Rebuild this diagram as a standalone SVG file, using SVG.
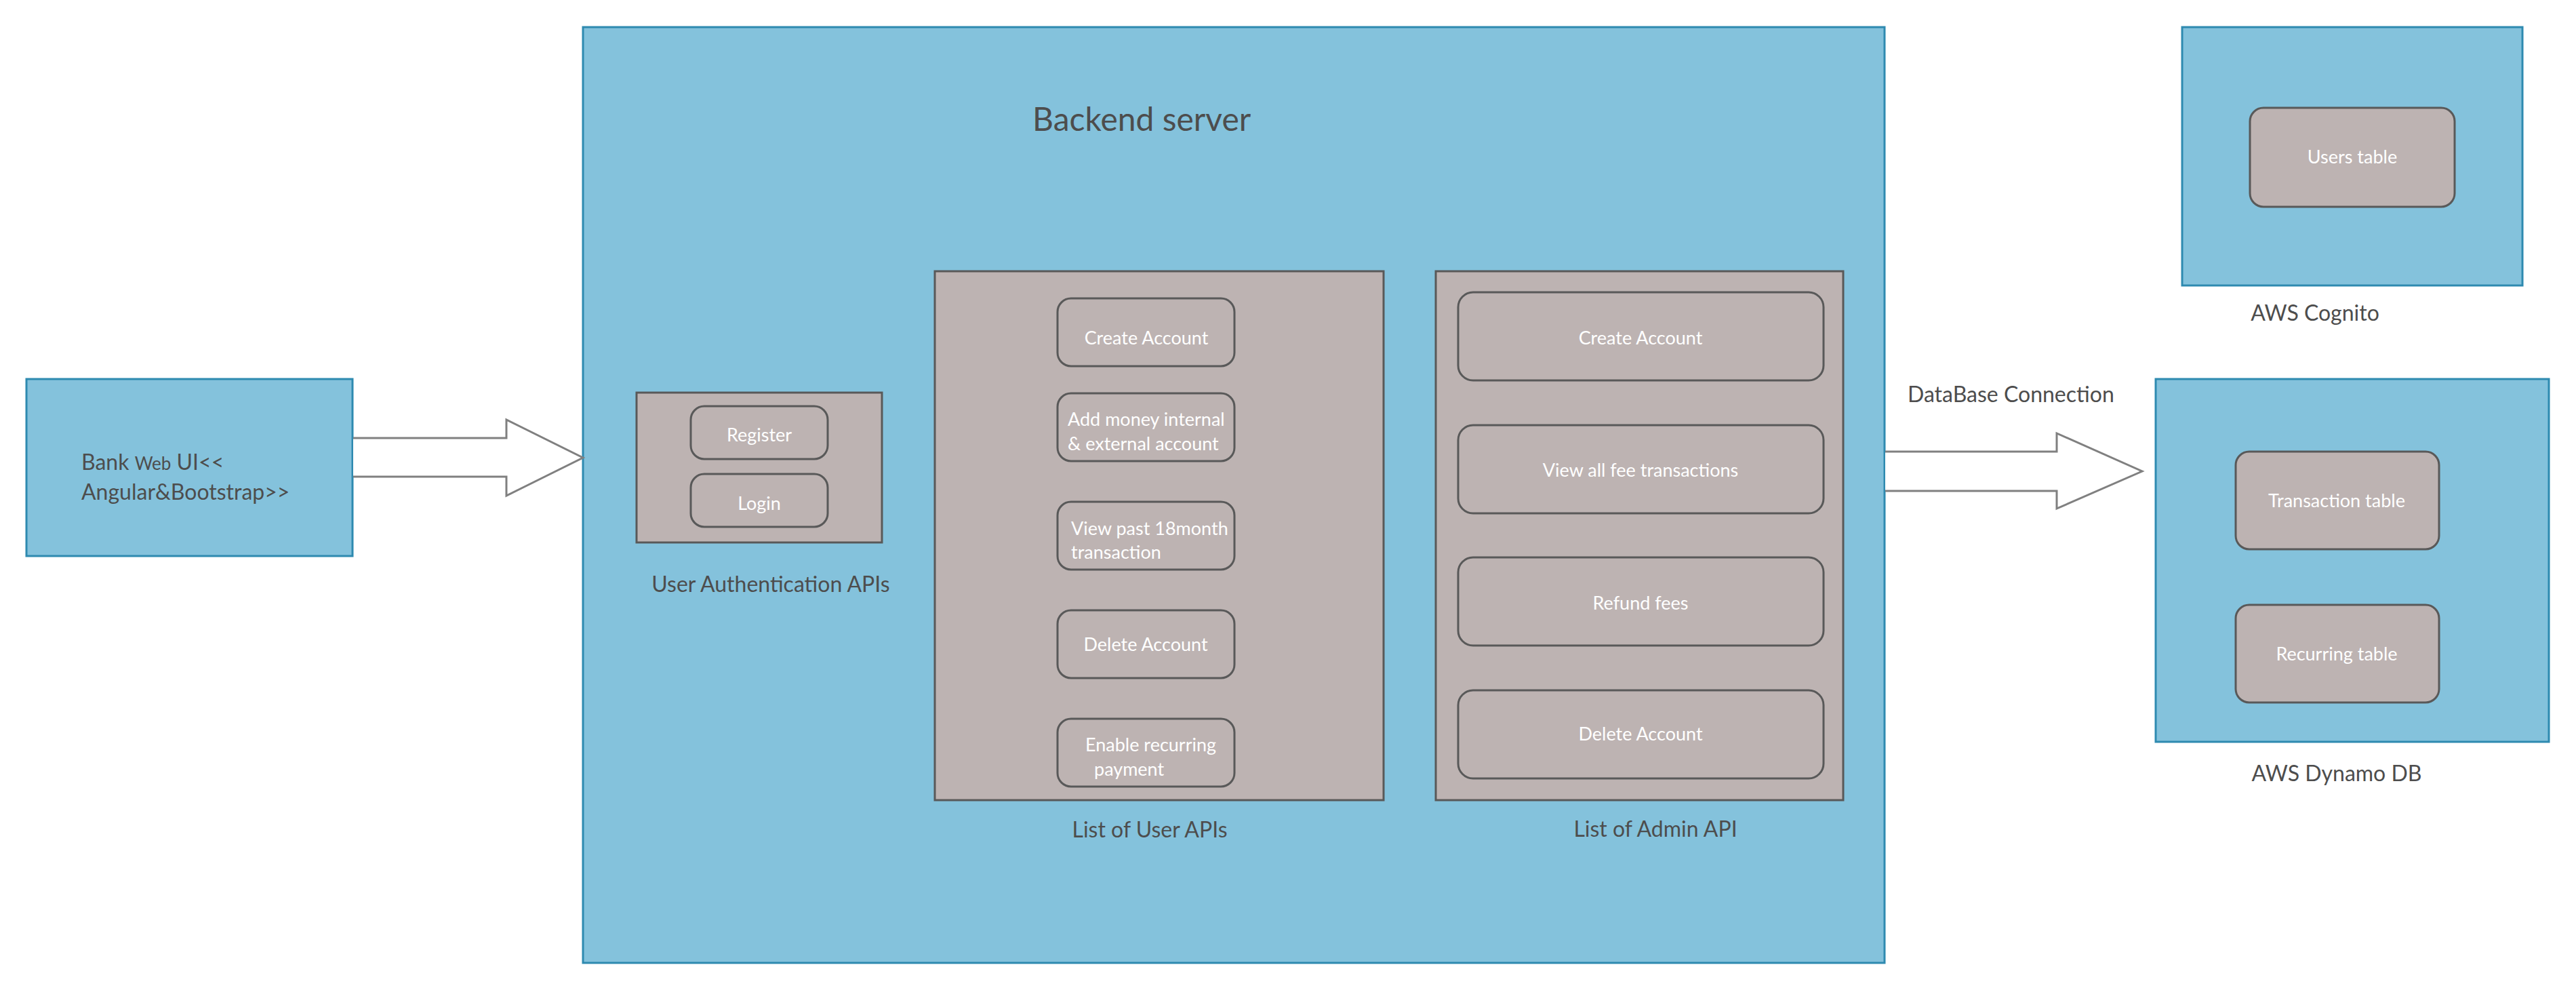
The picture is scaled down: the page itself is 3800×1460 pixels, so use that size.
<svg xmlns="http://www.w3.org/2000/svg" width="3800" height="1460" viewBox="0 0 3800 1460">
<style>
.blue{fill:#84c2dc;stroke:#2e8ab0;stroke-width:3}
.gray{fill:#bdb3b2;stroke:#595959;stroke-width:3}
.item{fill:#bdb3b2;stroke:#595959;stroke-width:3}
.lbl{font-family:Lato,"Liberation Sans",sans-serif;fill:#4d4d4d}
.wt{font-family:Lato,"Liberation Sans",sans-serif;fill:#ffffff;font-size:27px}
.arrow{fill:#ffffff;stroke:#808080;stroke-width:3;stroke-linejoin:miter}
</style>
<rect width="3800" height="1460" fill="#ffffff"/>
<g id="bank-web-ui">
<rect class="blue" x="39" y="559" width="481" height="261"/>
<text class="lbl" x="120" y="693" font-size="32">Bank <tspan font-size="26">Web</tspan> UI&lt;&lt;</text>
<text class="lbl" x="120" y="737" font-size="32">Angular&amp;Bootstrap&gt;&gt;</text>
</g>
<g id="backend-server">
<rect class="blue" x="860" y="40" width="1920" height="1380"/>
<text class="lbl" x="1523" y="193" font-size="48">Backend server</text>
</g>
<g id="user-auth-apis">
<rect class="gray" x="939" y="579" width="362" height="221"/>
<g id="register"><rect class="item" x="1019" y="599" width="202" height="78" rx="20"/><text class="wt" x="1120" y="651" text-anchor="middle">Register</text></g>
<g id="login"><rect class="item" x="1019" y="699" width="202" height="78" rx="20"/><text class="wt" x="1120" y="752" text-anchor="middle">Login</text></g>
<text class="lbl" x="1137" y="873" font-size="32" text-anchor="middle">User Authentication APIs</text>
</g>
<g id="user-apis">
<rect class="gray" x="1379" y="400" width="662" height="780"/>
<g id="u-create"><rect class="item" x="1560" y="440" width="261" height="100" rx="20"/><text class="wt" x="1691" y="508" text-anchor="middle">Create Account</text></g>
<g id="u-add"><rect class="item" x="1560" y="580" width="261" height="100" rx="20"/><text class="wt" x="1575" y="628">Add money internal</text><text class="wt" x="1575" y="664">&amp; external account</text></g>
<g id="u-view"><rect class="item" x="1560" y="740" width="261" height="100" rx="20"/><text class="wt" x="1580" y="789">View past 18month</text><text class="wt" x="1580" y="824">transaction</text></g>
<g id="u-delete"><rect class="item" x="1560" y="900" width="261" height="100" rx="20"/><text class="wt" x="1690" y="960" text-anchor="middle">Delete Account</text></g>
<g id="u-recurring"><rect class="item" x="1560" y="1060" width="261" height="100" rx="20"/><text class="wt" x="1601" y="1108">Enable recurring</text><text class="wt" x="1614" y="1144">payment</text></g>
<text class="lbl" x="1696" y="1235" font-size="32" text-anchor="middle">List of User APIs</text>
</g>
<g id="admin-apis">
<rect class="gray" x="2118" y="400" width="601" height="780"/>
<g id="a-create"><rect class="item" x="2151" y="431" width="539" height="130" rx="22"/><text class="wt" x="2420" y="508" text-anchor="middle">Create Account</text></g>
<g id="a-view"><rect class="item" x="2151" y="627" width="539" height="130" rx="22"/><text class="wt" x="2420" y="703" text-anchor="middle">View all fee transactions</text></g>
<g id="a-refund"><rect class="item" x="2151" y="822" width="539" height="130" rx="22"/><text class="wt" x="2420" y="899" text-anchor="middle">Refund fees</text></g>
<g id="a-delete"><rect class="item" x="2151" y="1018" width="539" height="130" rx="22"/><text class="wt" x="2420" y="1092" text-anchor="middle">Delete Account</text></g>
<text class="lbl" x="2442" y="1234" font-size="32" text-anchor="middle">List of Admin API</text>
</g>
<g id="aws-cognito">
<rect class="blue" x="3219" y="40" width="502" height="381"/>
<g id="users-table"><rect class="item" x="3319" y="159" width="302" height="146" rx="20"/><text class="wt" x="3470" y="241" text-anchor="middle">Users table</text></g>
<text class="lbl" x="3415" y="473" font-size="32" text-anchor="middle">AWS Cognito</text>
</g>
<g id="aws-dynamo">
<rect class="blue" x="3180" y="559" width="580" height="535"/>
<g id="transaction-table"><rect class="item" x="3298" y="666" width="300" height="144" rx="20"/><text class="wt" x="3447" y="748" text-anchor="middle">Transaction table</text></g>
<g id="recurring-table"><rect class="item" x="3298" y="892" width="300" height="144" rx="20"/><text class="wt" x="3447" y="974" text-anchor="middle">Recurring table</text></g>
<text class="lbl" x="3447" y="1152" font-size="32" text-anchor="middle">AWS Dynamo DB</text>
</g>
<g id="connectors">
<path class="arrow" d="M521 646 H747 V619 L860 675 L747 731 V703 H521"/>
<path class="arrow" d="M2781 666 H3034 V639 L3160 695 L3034 750 V724 H2781"/>
<text class="lbl" x="2814" y="593" font-size="32">DataBase Connection</text>
</g>
</svg>
